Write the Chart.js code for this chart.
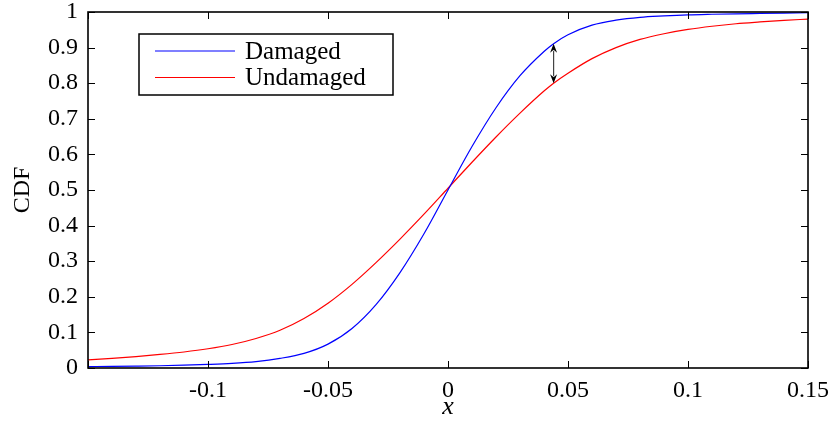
<!DOCTYPE html>
<html>
<head>
<meta charset="utf-8">
<script src="https://cdn.jsdelivr.net/npm/chart.js@4.4.1/dist/chart.umd.min.js"></script>
<style>
    html, body { margin: 0; padding: 0; background: #fff; }
    #cdfChart { display: block; }
</style>
</head>
<body>
<canvas id="cdfChart" width="833" height="423"></canvas>
<script>
// sample positions along x and the two empirical CDFs
const xValues   = [-0.15, -0.14, -0.13, -0.12, -0.11, -0.10, -0.09, -0.08, -0.07, -0.06, -0.05, -0.04,
                   -0.03, -0.02, -0.01, 0, 0.01, 0.02, 0.03, 0.04, 0.044, 0.05, 0.06, 0.07,
                   0.08, 0.09, 0.10, 0.11, 0.12, 0.13, 0.14, 0.15];
const damaged   = [0.004, 0.0045, 0.0053, 0.0063, 0.0078, 0.010, 0.013, 0.018, 0.027, 0.041, 0.067, 0.111,
                   0.178, 0.268, 0.377, 0.50, 0.622, 0.731, 0.821, 0.889, 0.911, 0.936, 0.963, 0.977,
                   0.985, 0.989, 0.992, 0.9937, 0.995, 0.996, 0.997, 0.998];
const undamaged = [0.023, 0.027, 0.032, 0.038, 0.045, 0.054, 0.066, 0.083, 0.106, 0.139, 0.182, 0.235,
                   0.296, 0.362, 0.432, 0.505, 0.578, 0.649, 0.716, 0.778, 0.80, 0.828, 0.869, 0.900,
                   0.923, 0.939, 0.951, 0.960, 0.967, 0.972, 0.9765, 0.980];
const seriesNames = ['Damaged', 'Undamaged'];
const xTicks = [-0.15, -0.1, -0.05, 0, 0.05, 0.1, 0.15];
const yTicks = [0, 0.1, 0.2, 0.3, 0.4, 0.5, 0.6, 0.7, 0.8, 0.9, 1];
const gapX = 0.044;   // where the gap between the curves is marked

const FONT = '"Liberation Serif", "Times New Roman", serif';

const toPoints = ys => xValues.map((x, i) => ({ x: x, y: ys[i] }));

// let the plot box run right up to the canvas edges picked in layout.padding
const noLabelPadding = s => {
    s.paddingTop = 0; s.paddingBottom = 0;
    s.paddingLeft = 0; s.paddingRight = 0;
};

// box, inward ticks, gap arrow and legend, MATLAB style
const framePlugin = {
    id: 'frame',
    afterDatasetsDraw(chart) {
        const { ctx, chartArea: a, scales } = chart;
        const xs = scales.x, ys = scales.y;
        const tick = 7;

        ctx.save();
        ctx.strokeStyle = '#000';
        ctx.lineWidth = 1;
        ctx.beginPath();
        xTicks.forEach(v => {
            const px = Math.round(xs.getPixelForValue(v)) + 0.5;
            ctx.moveTo(px, a.bottom); ctx.lineTo(px, a.bottom - tick);
            ctx.moveTo(px, a.top);    ctx.lineTo(px, a.top + tick);
        });
        yTicks.forEach(v => {
            const py = Math.round(ys.getPixelForValue(v)) + 0.5;
            ctx.moveTo(a.left, py);  ctx.lineTo(a.left + tick, py);
            ctx.moveTo(a.right, py); ctx.lineTo(a.right - tick, py);
        });
        ctx.stroke();

        ctx.lineWidth = 1.6;
        ctx.strokeRect(a.left, a.top, a.right - a.left, a.bottom - a.top);

        // double-headed arrow between the two curves
        const i = xValues.indexOf(gapX);
        const ax = xs.getPixelForValue(gapX);
        const y1 = ys.getPixelForValue(damaged[i]);
        const y2 = ys.getPixelForValue(undamaged[i]);
        const hl = 9, hw = 3.5;
        ctx.lineWidth = 1.2;
        ctx.strokeStyle = '#444';
        ctx.beginPath();
        ctx.moveTo(ax, y1 + hl - 2); ctx.lineTo(ax, y2 - hl + 2);
        ctx.stroke();
        ctx.fillStyle = '#000';
        ctx.beginPath();
        ctx.moveTo(ax, y1); ctx.lineTo(ax - hw, y1 + hl); ctx.lineTo(ax, y1 + hl - 3); ctx.lineTo(ax + hw, y1 + hl);
        ctx.closePath();
        ctx.moveTo(ax, y2); ctx.lineTo(ax - hw, y2 - hl); ctx.lineTo(ax, y2 - hl + 3); ctx.lineTo(ax + hw, y2 - hl);
        ctx.closePath();
        ctx.fill();

        // legend
        const lx = a.left + 51, ly = a.top + 22, lw = 254, lh = 61;
        ctx.fillStyle = '#fff';
        ctx.fillRect(lx, ly, lw, lh);
        ctx.lineWidth = 1.5;
        ctx.strokeStyle = '#000';
        ctx.strokeRect(lx, ly, lw, lh);
        ctx.font = '25px ' + FONT;
        ctx.textBaseline = 'middle';
        chart.data.datasets.forEach((ds, k) => {
            const rowY = ly + 17 + k * 26.5;
            ctx.strokeStyle = ds.borderColor;
            ctx.lineWidth = 1.2;
            ctx.beginPath();
            ctx.moveTo(lx + 16, rowY); ctx.lineTo(lx + 96, rowY);
            ctx.stroke();
            ctx.fillStyle = '#000';
            ctx.fillText(ds.label, lx + 106, rowY + 1);
        });
        ctx.restore();
    }
};

new Chart(document.getElementById('cdfChart'), {
    type: 'line',
    data: {
        datasets: [{
            label: seriesNames[0],
            data: toPoints(damaged),
            borderColor: '#0000ff',
            borderWidth: 1.2,
            pointRadius: 0,
            cubicInterpolationMode: 'monotone',
            fill: false
        }, {
            label: seriesNames[1],
            data: toPoints(undamaged),
            borderColor: '#ff0000',
            borderWidth: 1.2,
            pointRadius: 0,
            cubicInterpolationMode: 'monotone',
            fill: false
        }]
    },
    options: {
        responsive: false,
        animation: false,
        devicePixelRatio: 1,
        layout: { padding: { top: 12, right: 25, left: 0, bottom: 0 } },
        plugins: {
            legend: { display: false },
            tooltip: { enabled: false }
        },
        scales: {
            x: {
                type: 'linear',
                min: -0.15,
                max: 0.15,
                afterFit: s => { s.height = 55; noLabelPadding(s); },
                afterBuildTicks: s => { s.ticks = xTicks.map(v => ({ value: v })); },
                grid: { display: false, drawTicks: false },
                border: { display: false },
                ticks: {
                    padding: 8,
                    maxRotation: 0,
                    autoSkip: false,
                    color: '#000',
                    font: { family: FONT, size: 24 },
                    callback: v => (Math.abs(v + 0.15) < 1e-9 ? '' : String(Number(v.toFixed(2))))
                },
                title: {
                    display: true,
                    text: 'x',
                    color: '#000',
                    padding: 0,
                    font: { family: FONT, size: 26, style: 'italic' }
                }
            },
            y: {
                min: 0,
                max: 1,
                afterFit: s => { s.width = 88; noLabelPadding(s); },
                afterBuildTicks: s => { s.ticks = yTicks.map(v => ({ value: v })); },
                grid: { display: false, drawTicks: false },
                border: { display: false },
                ticks: {
                    padding: 10,
                    autoSkip: false,
                    color: '#000',
                    font: { family: FONT, size: 24 },
                    callback: v => String(Number(v.toFixed(1)))
                },
                title: {
                    display: true,
                    text: 'CDF',
                    color: '#000',
                    padding: { top: 8, bottom: 0 },
                    font: { family: FONT, size: 24 }
                }
            }
        }
    },
    plugins: [framePlugin]
});
</script>
</body>
</html>
